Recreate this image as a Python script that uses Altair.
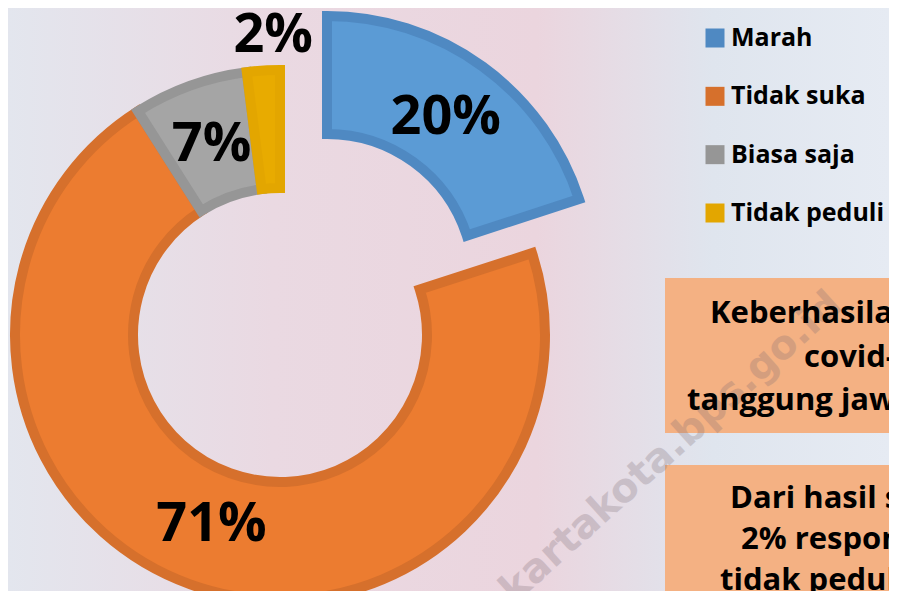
import math
import altair as alt
import pandas as pd

# ---- data ----
cats = ["Marah", "Tidak suka", "Biasa saja", "Tidak peduli"]
values = [20, 71, 7, 2]
pct_labels = ["20%", "71%", "7%", "2%"]
fill_colors = ["#5b9bd5", "#ec7c30", "#a5a5a5", "#e8ab00"]
edge_colors = ["#4f89c2", "#d6702c", "#969696", "#e3a600"]
box1_lines = ["Keberhasilan", "covid-19", "tanggung jawab"]
box2_lines = ["Dari hasil survei", "2% responden", "tidak peduli"]
watermark = "yogyakartakota.bps.go.id"

df = pd.DataFrame({"cat": cats, "value": values, "label": pct_labels})
df["end"] = df["value"].cumsum()
df["start"] = df["end"] - df["value"]
df["mid"] = (df["start"] + df["end"]) / 2

W, H = 881, 583
theta_scale = alt.Scale(domain=[0, 100], range=[0, 2 * math.pi])
fill_scale = alt.Scale(domain=cats, range=fill_colors)
stroke_scale = alt.Scale(domain=cats, range=edge_colors)

base = alt.Chart(df)
one = alt.Chart(pd.DataFrame({"k": [0]}))

# background
bg = one.mark_rect(
    fill={"gradient": "linear", "x1": 0, "x2": 1, "y1": 0, "y2": 0,
          "stops": [{"offset": 0, "color": "#e3e6ee"},
                    {"offset": 0.3, "color": "#ead9e2"},
                    {"offset": 0.6, "color": "#ebd5de"},
                    {"offset": 0.8, "color": "#dfe5ee"},
                    {"offset": 1, "color": "#e6ebf3"}]}
).encode(x=alt.value(0), x2=alt.value(W), y=alt.value(0), y2=alt.value(H))


def arcs(flt, cx, cy):
    return base.transform_filter(flt).mark_arc(
        outerRadius=265, innerRadius=147, strokeWidth=10, strokeJoin="miter"
    ).encode(
        theta=alt.Theta("start:Q", scale=theta_scale, stack=False),
        theta2="end:Q",
        fill=alt.Fill("cat:N", scale=fill_scale, legend=None),
        stroke=alt.Stroke("cat:N", scale=stroke_scale, legend=None),
        x=alt.value(cx), y=alt.value(cy),
    )


def labels(flt, cx, cy, r, dx=0):
    return base.transform_filter(flt).mark_text(
        radius=r, dx=dx, font="Open Sans", fontWeight="bold", fontSize=54,
        color="black", align="center", baseline="middle"
    ).encode(
        theta=alt.Theta("mid:Q", scale=theta_scale, stack=False),
        text="label:N",
        x=alt.value(cx), y=alt.value(cy),
    )


MX, MY = 272, 327      # main donut centre
BX, BY = 319, 273      # exploded slice centre

main_arcs = arcs((alt.datum.cat != "Marah"), MX, MY)
blue_arc = arcs((alt.datum.cat == "Marah"), BX, BY)
main_lbl = labels((alt.datum.cat == "Tidak suka") | (alt.datum.cat == "Biasa saja"), MX, MY, 202)
small_lbl = labels((alt.datum.cat == "Tidak peduli"), MX, MY, 300, dx=12)
blue_lbl = labels((alt.datum.cat == "Marah"), BX, BY, 202)

# legend
leg_y = alt.Scale(domain=cats, range=[30, 205], padding=0)
leg_sq = base.mark_square(size=361, opacity=1, filled=True).encode(
    x=alt.value(707),
    y=alt.Y("cat:N", scale=leg_y, axis=None),
    color=alt.Color("cat:N", scale=alt.Scale(domain=cats, range=edge_colors), legend=None),
)
leg_txt = base.mark_text(
    align="left", baseline="middle", font="Open Sans", fontWeight="bold",
    fontSize=25, color="black"
).encode(x=alt.value(723), y=alt.Y("cat:N", scale=leg_y, axis=None), text="cat:N")

# text boxes
box_color = "#f4b183"
box1 = one.mark_rect(color=box_color).encode(
    x=alt.value(657), x2=alt.value(W + 20), y=alt.value(270), y2=alt.value(425))
box2 = one.mark_rect(color=box_color).encode(
    x=alt.value(657), x2=alt.value(W + 20), y=alt.value(457), y2=alt.value(H + 20))

wm = one.mark_text(
    text=watermark, angle=318, align="right", baseline="alphabetic",
    font="DejaVu Sans", fontWeight="bold", fontSize=40, color="#7a6a72", opacity=0.26
).encode(x=alt.value(836), y=alt.value(300))


def line(txt, x, y):
    return one.mark_text(
        text=txt, align="left", baseline="alphabetic", font="Open Sans",
        fontWeight="bold", fontSize=31, color="black"
    ).encode(x=alt.value(x), y=alt.value(y))


box_text = [
    line(box1_lines[0], 702, 315),
    line(box1_lines[1], 796, 359),
    line(box1_lines[2], 679, 402),
    line(box2_lines[0], 722, 500),
    line(box2_lines[1], 733, 541),
    line(box2_lines[2], 712, 582),
]

chart = alt.layer(
    bg, box1, box2, wm, *box_text,
    main_arcs, blue_arc, main_lbl, small_lbl, blue_lbl,
    leg_sq, leg_txt,
).properties(
    width=W, height=H,
    autosize=alt.AutoSizeParams(type="none"),
    padding=0,
    background="#e7e2ea",
).configure_view(stroke=None)

chart.save("out.html", embed_options={"renderer": "svg", "actions": False})
